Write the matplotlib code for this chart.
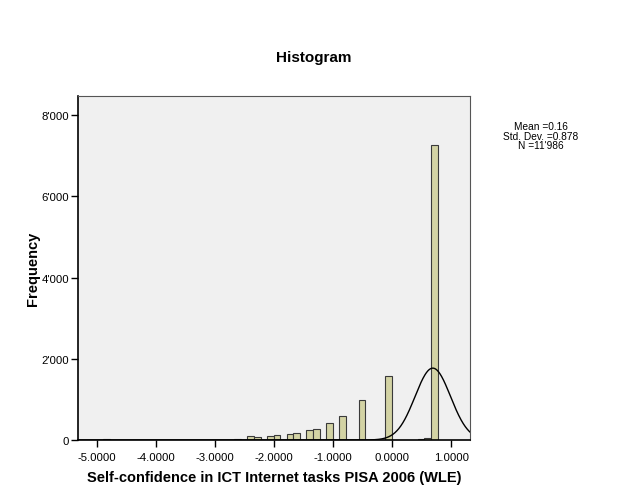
import numpy as np
import matplotlib
matplotlib.use("Agg")
import matplotlib.pyplot as plt
from matplotlib.ticker import FuncFormatter

plt.rcParams['font.family'] = ['Liberation Sans', 'DejaVu Sans']

# Histogram data: 55 bins of equal width, starting at bin_start
bin_start = -5.335
bin_width = 0.111
counts = [0, 0, 0, 0, 15, 0, 0, 0, 0, 0,
          0, 0, 8, 0, 0, 0, 10, 0, 0, 0,
          0, 8, 10, 0, 22, 0, 90, 65, 0, 105,
          115, 0, 140, 172, 0, 255, 270, 0, 410, 0,
          598, 0, 0, 990, 0, 0, 0, 1575, 0, 0,
          0, 0, 15, 40, 7250]

# Stats shown in legend
stat_mean = "0.16"
stat_sd = "0.878"
stat_n = "11'986"

# Fitted normal curve as drawn
curve_mean = 0.69
curve_sd = 0.30
n_total = 11986

xticks = [-5.0, -4.0, -3.0, -2.0, -1.0, 0.0, 1.0]
yticks = [0, 2000, 4000, 6000, 8000]

fig = plt.figure(figsize=(6.27, 5.02), dpi=100)
ax = fig.add_axes([0.1244, 0.1215, 0.6252, 0.6853])
ax.set_facecolor('#F0F0F0')

edges = bin_start + bin_width * np.arange(len(counts) + 1)
ax.bar(edges[:-1], counts, width=bin_width, align='edge',
       color='#D3D3A4', edgecolor='#3A3A3A', linewidth=0.8, zorder=2)

xs = np.linspace(-5.4, 1.4, 800)
ys = n_total * bin_width / (curve_sd * np.sqrt(2 * np.pi)) * np.exp(-0.5 * ((xs - curve_mean) / curve_sd) ** 2)
ax.plot(xs, ys, color='black', linewidth=1.0, zorder=3)

ax.set_xlim(-5.317, 1.32)
ax.set_ylim(0, 8468)
ax.set_xticks(xticks)
ax.set_yticks(yticks)
ax.xaxis.set_major_formatter(FuncFormatter(lambda v, p: f"{v:.4f}"))
ax.yaxis.set_major_formatter(FuncFormatter(lambda v, p: f"{int(v):,}".replace(",", "'")))
ax.tick_params(axis='both', direction='out', length=5, width=1, labelsize=8.2, color='black')
ax.tick_params(axis='y', pad=1.5)

for s in ['left', 'bottom']:
    ax.spines[s].set_color('black')
    ax.spines[s].set_linewidth(1.2)
for s in ['top', 'right']:
    ax.spines[s].set_color('#555555')
    ax.spines[s].set_linewidth(0.8)

ax.set_xlabel('Self-confidence in ICT Internet tasks PISA 2006 (WLE)', fontsize=10.5, fontweight='bold', labelpad=6)
ax.set_ylabel('Frequency', fontsize=10.5, fontweight='bold', labelpad=1)

fig.text(0.5, 0.884, 'Histogram', ha='center', va='center', fontsize=11, fontweight='bold')

fig.text(0.862, 0.757, f"Mean ={stat_mean}\nStd. Dev. ={stat_sd}\nN ={stat_n}",
         ha='center', va='top', fontsize=7.3, linespacing=0.95)

fig.savefig('out.png', dpi=100, facecolor='white')
